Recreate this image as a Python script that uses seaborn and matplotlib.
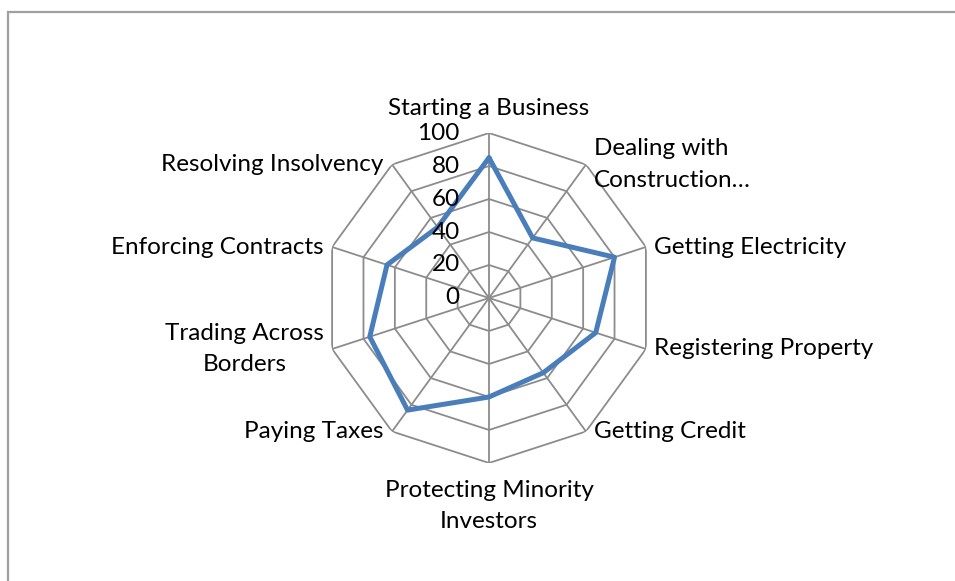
import numpy as np
import pandas as pd
import seaborn as sns
import matplotlib.pyplot as plt
from matplotlib.patches import Rectangle

categories = ['Starting a Business', 'Dealing with\nConstruction…', 'Getting Electricity',
              'Registering Property', 'Getting Credit', 'Protecting Minority\nInvestors',
              'Paying Taxes', 'Trading Across\nBorders', 'Enforcing Contracts',
              'Resolving Insolvency']
scores = [85, 45, 80, 68, 56, 60, 84, 76, 65, 53]
ring_ticks = [0, 20, 40, 60, 80, 100]

sns.set_style('white')
plt.rcParams['font.family'] = ['Lato', 'DejaVu Sans']

n = len(categories)
angles = np.linspace(0, 2 * np.pi, n, endpoint=False)

df = pd.DataFrame({'angle': np.append(angles, angles[0]),
                   'score': scores + [scores[0]]})

fig = plt.figure(figsize=(9.55, 5.81), dpi=100)
ax = fig.add_axes([0.3393, 0.2031, 0.3455, 0.568], projection='polar')
ax.set_theta_offset(np.pi / 2)
ax.set_theta_direction(-1)
ax.set_ylim(0, 100)
ax.grid(False)
ax.set_xticks([])
ax.set_yticks([])
ax.spines['polar'].set_visible(False)
ax.patch.set_alpha(0)

grid_col = '#8c8c8c'
# polygon rings
for r in ring_ticks[1:]:
    ax.plot(np.append(angles, angles[0]), [r] * (n + 1), color=grid_col, lw=1.3, zorder=1)
# spokes
for a in angles:
    ax.plot([a, a], [0, 100], color=grid_col, lw=1.3, zorder=1)

sns.lineplot(data=df, x='angle', y='score', sort=False, estimator=None,
             color='#4a7ebb', lw=3.6, ax=ax, zorder=3)
ax.set_xlabel('')
ax.set_ylabel('')

fs = 17.5

# radial tick labels along the top spoke
for r in ring_ticks:
    ax.annotate(str(r), xy=(0, r), xytext=(-21, 0), textcoords='offset points',
                ha='right', va='center', fontsize=fs, color='black')

# category labels
for a, lab in zip(angles, categories):
    deg = np.degrees(a)
    if np.isclose(deg, 0):
        ha, va, off, ma = 'center', 'bottom', (0, 10), 'center'
    elif np.isclose(deg, 180):
        ha, va, off, ma = 'center', 'top', (0, -12), 'center'
    elif deg < 180:
        ha, va, off, ma = 'left', 'center', (6, 0), 'left'
    else:
        ha, va, off, ma = 'right', 'center', (-6, 0), 'center'
    ax.annotate(lab, xy=(a, 100), xytext=off, textcoords='offset points',
                ha=ha, va=va, fontsize=fs, multialignment=ma,
                linespacing=1.6, color='black')

# chart area border (partly cropped in reference)
fig.patches.append(Rectangle((8 / 955, -0.1), 1.2, 1 - 12 / 581 + 0.1,
                             transform=fig.transFigure, fill=False,
                             edgecolor='#a0a0a0', lw=1.6))

fig.savefig('out.png', dpi=100)
